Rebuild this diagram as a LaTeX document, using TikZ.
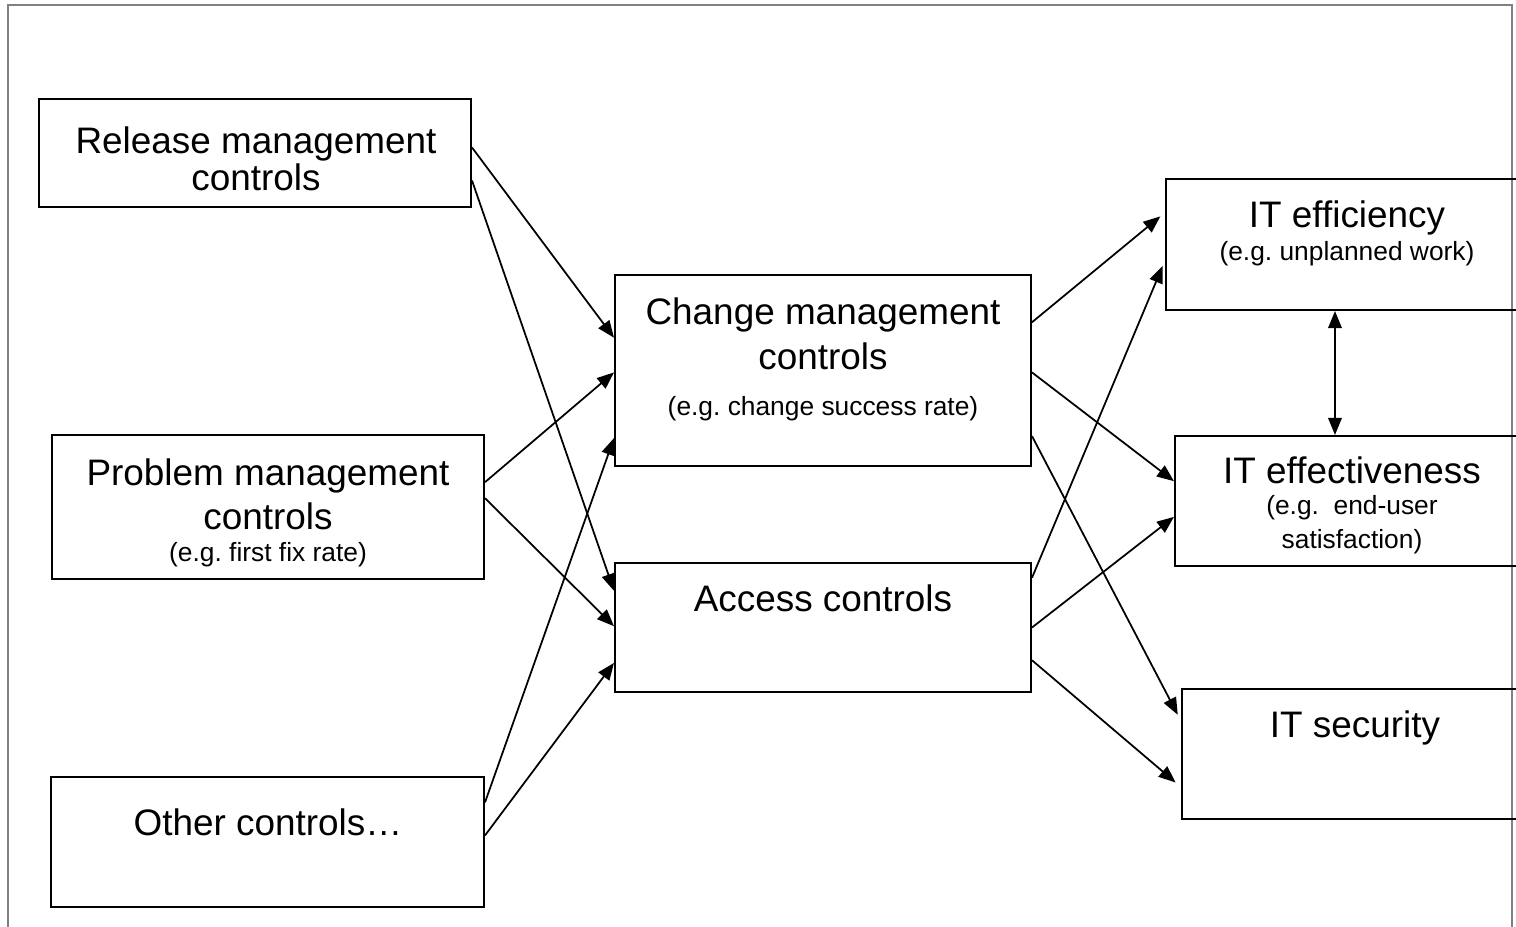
\documentclass[tikz,border=0pt]{standalone}
\usepackage{fontspec}
\setmainfont{Liberation Sans}
\frenchspacing
\usetikzlibrary{arrows.meta,calc}

\tikzset{
  >={Triangle[length=0.34cm,width=0.27cm]},
  box/.style={draw, line width=1.2pt, inner sep=0pt},
  lbl/.style={anchor=base, align=center, inner sep=0pt, font=\fontsize{21}{21}\selectfont},
  link/.style={->, line width=1pt},
}
\newcommand{\note}[1]{{\fontsize{15}{15}\selectfont #1}}
% point on the left or right side of a box, given as a fraction from the top
\newcommand{\edgept}[3]{($(#1.north #2)!#3!(#1.south #2)$)}

\begin{document}
\begin{tikzpicture}[x=0.02cm, y=-0.02cm]
    \useasboundingbox (0,0) rectangle (1516,927);
    \clip (0,0) rectangle (1516,927);
    % Page frame
    \draw[gray, line width=0.8pt] (8,927) -- (8,5) -- (1512,5) -- (1512,927);

    % Controls on the left (labels sit on their last baseline)
    \node[box, minimum width=8.64cm, minimum height=2.16cm] (rel) at (255,153) {};
    \node[box, minimum width=8.64cm, minimum height=2.88cm] (prob) at (268,507) {};
    \node[box, minimum width=8.66cm, minimum height=2.60cm] (oth) at (267.5,842) {};
    \node[lbl] (rel-t) at (256,190) {Release management\\controls};
    \node[lbl] (prob-t) at (268,561) {Problem management\\[4pt]controls\\[-3pt]\note{(e.g. first fix rate)}};
    \node[lbl] (oth-t) at (268,835) {Other controls…};

    % Middle column
    \node[box, minimum width=8.32cm, minimum height=3.82cm] (chg) at (823,370.5) {};
    \node[box, minimum width=8.32cm, minimum height=2.58cm] (acc) at (823,627.5) {};
    \node[lbl] (chg-t) at (823,415) {Change management\\[4.6pt]controls\\[5pt]\note{(e.g. change success rate)}};
    \node[lbl] (acc-t) at (823,611) {Access controls};

    % Outcomes on the right
    \node[box, minimum width=7.24cm, minimum height=2.62cm] (eff) at (1347,244.5) {};
    \node[box, minimum width=7.08cm, minimum height=2.60cm] (efv) at (1352,501) {};
    \node[box, minimum width=6.92cm, minimum height=2.60cm] (sec) at (1355,754) {};
    \node[lbl] (eff-t) at (1347,260) {IT efficiency\\[-2.5pt]\note{(e.g. unplanned work)}};
    \node[lbl] (efv-t) at (1352,548) {IT effectiveness\\[-3.5pt]\note{(e.g.\ \ end-user}\\[-2pt]\note{satisfaction)}};
    \node[lbl] (sec-t) at (1355,737) {IT security};

    % Arrows into the middle column
    \draw[link] \edgept{rel}{east}{0.45} -- \edgept{chg}{west}{0.33};
    \draw[link] \edgept{rel}{east}{0.75} -- \edgept{acc}{west}{0.22};
    \draw[link] \edgept{prob}{east}{0.33} -- \edgept{chg}{west}{0.51};
    \draw[link] \edgept{prob}{east}{0.44} -- \edgept{acc}{west}{0.49};
    \draw[link] \edgept{oth}{east}{0.2} -- \edgept{chg}{west}{0.85};
    \draw[link] \edgept{oth}{east}{0.45} -- \edgept{acc}{west}{0.77};

    % Arrows into the outcomes
    \draw[link, shorten >=0.12cm] \edgept{chg}{east}{0.25} -- \edgept{eff}{west}{0.26};
    \draw[link] \edgept{chg}{east}{0.51} -- \edgept{efv}{west}{0.35};
    \draw[link, shorten >=0.14cm] \edgept{chg}{east}{0.84} -- \edgept{sec}{west}{0.25};
    \draw[link, shorten >=0.12cm] \edgept{acc}{east}{0.12} -- \edgept{eff}{west}{0.62};
    \draw[link] \edgept{acc}{east}{0.5} -- \edgept{efv}{west}{0.62};
    \draw[link, shorten >=0.14cm] \edgept{acc}{east}{0.75} -- \edgept{sec}{west}{0.75};

    % Efficiency and effectiveness
    \coordinate (mid) at ($(eff.south west)!0.467!(eff.south east)$);
    \draw[link, <->] (mid) -- (mid |- efv.north);
\end{tikzpicture}
\end{document}
